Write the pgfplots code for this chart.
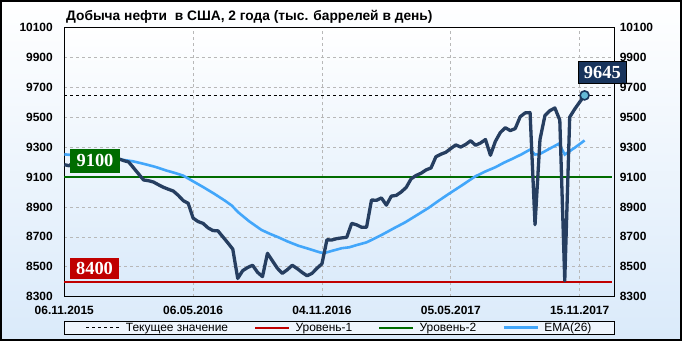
\documentclass[border=0pt]{standalone}
\usepackage{pgfplots}
\pgfplotsset{compat=1.18}
\usepackage{fontspec}
\setmainfont{Liberation Sans}
\newfontfamily\serifb{Liberation Serif}
\definecolor{darkline}{RGB}{38,62,96}
\definecolor{emaBlue}{RGB}{66,166,250}
\definecolor{lvlred}{RGB}{192,0,0}
\definecolor{lvlgreen}{RGB}{0,108,0}
\definecolor{navy}{RGB}{24,52,92}
\definecolor{bgblue}{RGB}{218,234,250}
\definecolor{markfill}{RGB}{100,185,215}
\definecolor{legfill}{RGB}{238,245,253}

\pgfplotstableread{
i v
0 9182
1 9175
2 9202
3 9161
4 9178
5 9177
6 9183
7 9191
8 9235
9 9227
10 9235
11 9221
12 9209
13 9200
14 9160
15 9120
16 9080
17 9075
18 9066
19 9048
20 9031
21 9018
22 9006
23 8977
24 8942
25 8924
26 8825
27 8802
28 8790
29 8760
30 8742
31 8740
32 8700
33 8660
34 8618
35 8422
36 8474
37 8495
38 8510
39 8463
40 8434
41 8590
42 8540
43 8490
44 8456
45 8480
46 8510
47 8488
48 8462
49 8440
50 8456
51 8490
52 8520
53 8680
54 8679
55 8688
56 8693
57 8697
58 8790
59 8780
60 8764
61 8764
62 8946
63 8944
64 8960
65 8912
66 8972
67 8977
68 9000
69 9030
70 9088
71 9110
72 9125
73 9147
74 9160
75 9235
76 9252
77 9265
78 9290
79 9314
80 9300
81 9317
82 9342
83 9312
84 9327
85 9350
86 9245
87 9338
88 9397
89 9429
90 9410
91 9423
92 9502
93 9528
94 9530
95 8781
96 9350
97 9510
98 9543
99 9561
100 9480
101 8407
102 9500
103 9553
104 9600
105 9645
}\prod

\pgfplotstableread{
i v
0 9251
3 9243
6 9235
9 9226
11.5 9216
13.8 9205
16 9188
18.3 9168
20.6 9143
22.4 9126
24 9109
26.3 9065
28 9033
30.3 8987
32.4 8942
33.8 8909
35.1 8864
37.3 8804
39.8 8746
41.5 8720
43.2 8697
45 8670
47.2 8641
49.5 8618
51.6 8596
52.5 8592
54 8606
56 8624
57.5 8630
59 8645
61 8663
62.8 8692
64.4 8719
66.5 8757
68.8 8797
71.5 8852
73.5 8893
75.5 8940
77.6 8987
80.2 9043
82.9 9103
85 9137
87 9165
88.7 9195
90.4 9221
92.2 9250
94 9283
95 9250
96 9254
98 9290
99.8 9322
101 9250
103 9295
105 9344
}\ema

\begin{document}
\begin{tikzpicture}
\shade[top color=white, middle color=white, bottom color=bgblue] (-64.3bp,-44.3bp) rectangle (617.7bp,296.7bp);
\begin{axis}[
  at={(0,0)}, anchor=south west,
  scale only axis, width=550bp, height=269.4bp,
  xmin=0, xmax=111, ymin=8300, ymax=10100,
  xtick={0,26,52,78,104},
  xticklabels={06.11.2015,06.05.2016,04.11.2016,05.05.2017,15.11.2017},
  ytick={8300,8500,...,10100},
  scaled y ticks=false,
  grid=major, grid style={dashed, black!28, line width=0.6bp},
  major tick length=0pt,
  axis line style={line width=0.9bp, black},
  tick label style={font=\bfseries\fontsize{12}{13}\selectfont},
  xticklabel style={yshift=-6bp},
  yticklabel style={xshift=-8bp},
  /pgf/number format/assume math mode=true,
  /pgf/number format/1000 sep={},
  axis background/.style={shade, top color=white, middle color=white, bottom color=bgblue},
  clip=false,
  legend columns=4,
  legend cell align=left,
  legend style={at={(0.5,-0.0902)}, anchor=north, draw=black, line width=0.8bp, fill=legfill,
    font=\fontsize{12}{13}\selectfont, inner xsep=22bp, inner ysep=0bp,
    /tikz/every even column/.append style={column sep=25bp},
    nodes={inner sep=1.2bp}},
  legend image code/.code={\draw[#1] (0bp,0bp) -- (34bp,0bp); \path (38bp,0bp);},
]
\addplot[black, dashed, line width=0.8bp] coordinates {(0,9645) (110.5,9645)};
\addlegendentry{Текущее значение}
\addplot[lvlred, line width=2bp] coordinates {(0,8400) (110.5,8400)};
\addlegendentry{Уровень-1}
\addplot[lvlgreen, line width=2bp] coordinates {(0,9100) (110.5,9100)};
\addlegendentry{Уровень-2}
\addplot[emaBlue, line width=2.6bp] table[x=i,y=v] {\ema};
\addlegendentry{EMA(26)}
\addplot[darkline, line width=3.3bp, line join=round, forget plot] table[x=i,y=v] {\prod};
\addplot[only marks, mark=*, mark size=4.5bp, mark options={fill=markfill, draw=navy, line width=1.6bp}, forget plot] coordinates {(105,9645)};
\node[fill=lvlgreen, text=white, font=\serifb\bfseries\fontsize{18.5}{19}\selectfont, minimum width=50bp, minimum height=24bp, inner sep=0pt] at (axis cs:6.2,9210) {9100};
\node[fill=lvlred, text=white, font=\serifb\bfseries\fontsize{18.5}{19}\selectfont, minimum width=49bp, minimum height=21bp, inner sep=0pt] at (axis cs:6.1,8490) {8400};
\node[fill=navy, draw=black, line width=0.6bp, text=white, font=\serifb\bfseries\fontsize{18.5}{19}\selectfont, minimum width=48bp, minimum height=22bp, inner sep=0pt] at (axis cs:108.6,9799) {9645};
\node[anchor=west, inner sep=0pt, font=\bfseries\fontsize{13.8}{14}\selectfont] at (axis description cs:0.003,1.04) {Добыча нефти\ \ в США, 2 года (тыс. баррелей в день)};
\end{axis}
\begin{axis}[
  at={(0,0)}, anchor=south west,
  scale only axis, width=550bp, height=269.4bp,
  xmin=0, xmax=111, ymin=8300, ymax=10100,
  ytick={8300,8500,...,10100},
  scaled y ticks=false,
  hide x axis, axis y line*=right,
  axis line style={draw=none},
  major tick length=0pt,
  tick label style={font=\bfseries\fontsize{12}{13}\selectfont},
  yticklabel style={xshift=2bp},
  /pgf/number format/assume math mode=true,
  /pgf/number format/1000 sep={},
]
\addplot[draw=none] coordinates {(0,8300)};
\end{axis}
\draw[line width=2bp, black] (-63.3bp,-43.3bp) rectangle (616.7bp,295.7bp);
\pgfresetboundingbox
\useasboundingbox (-64.3bp,-44.3bp) rectangle (617.7bp,296.7bp);
\end{tikzpicture}
\end{document}
